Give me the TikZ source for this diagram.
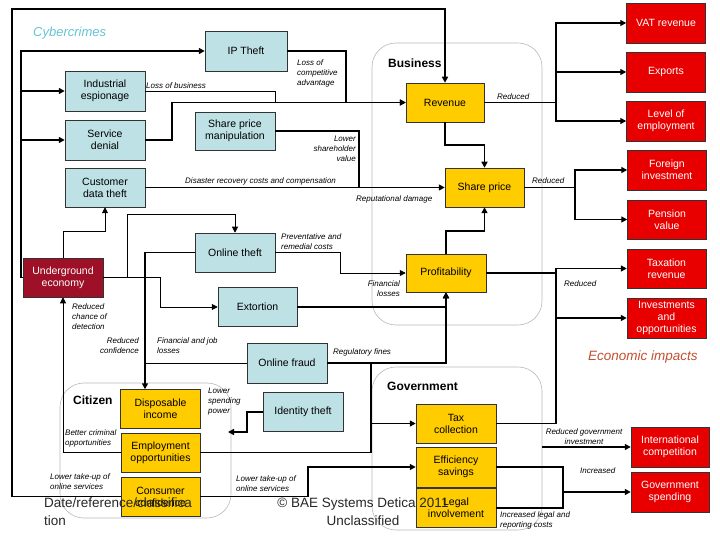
\documentclass[tikz,border=0pt]{standalone}
\usepackage{fontspec}
\setmainfont{Liberation Sans}
\usetikzlibrary{arrows.meta}
\definecolor{cybfill}{RGB}{190,225,229}
\definecolor{bizfill}{RGB}{255,204,0}
\definecolor{econfill}{RGB}{232,0,0}
\definecolor{ugefill}{RGB}{158,16,40}
\definecolor{cybtext}{RGB}{100,195,210}
\definecolor{econtext}{RGB}{192,80,48}
\definecolor{grpline}{RGB}{185,185,185}
\newcommand{\boxfont}{\fontsize{10.5}{12}\selectfont}
\newcommand{\linkfont}{\fontsize{8}{10}\selectfont\itshape}

\begin{document}
\begin{tikzpicture}[x=1pt,y=-1pt,
    every node/.style={font=\boxfont},
    box/.style={draw=black!80, line width=0.5pt, minimum width=80pt, minimum height=39pt, align=center, inner sep=1pt},
    cyber/.style={box, fill=cybfill},
    impact/.style={box, fill=bizfill},
    econ/.style={box, fill=econfill, text=white, minimum width=79pt},
    under/.style={box, fill=ugefill, text=white},
    group/.style={draw=grpline, line width=0.6pt, rounded corners=24pt, inner sep=0pt},
    grouplabel/.style={font=\fontsize{12}{14}\selectfont\bfseries, anchor=west, inner sep=0pt},
    lbl/.style={font=\linkfont, inner sep=0pt},
    footer/.style={font=\fontsize{13.5}{18}\selectfont, text=black!85, inner sep=0pt},
    link/.style={line width=1.8pt},
    midlink/.style={line width=1.3pt},
    thinlink/.style={line width=0.9pt},
    arrowed/.style={-{Triangle[length=6pt,width=6pt]}}]
  \useasboundingbox (0,0) rectangle (720,540);

  % groups
  \node[group, minimum width=170pt, minimum height=282pt] (busgrp) at (457,184) {};
  \node[group, minimum width=170pt, minimum height=163pt] (govgrp) at (457,448.5) {};
  \node[group, minimum width=171pt, minimum height=135pt] (citgrp) at (145.5,450.5) {};
  \node[grouplabel] (busname) at (388,63) {Business};
  \node[grouplabel] (govname) at (387,386) {Government};
  \node[grouplabel] (citname) at (73,400) {Citizen};
  \node[anchor=west, inner sep=0pt, text=cybtext, font=\fontsize{13}{15}\selectfont\itshape] (cybname) at (33,33) {Cybercrimes};
  \node[anchor=west, inner sep=0pt, text=econtext, font=\fontsize{13.5}{15}\selectfont\itshape] (econname) at (588,357) {Economic impacts};

  % cybercrimes
  \node[cyber, minimum width=82pt, minimum height=40pt] (ipt) at (246,51) {IP Theft};
  \node[cyber, minimum height=40pt] (ind) at (105,91) {Industrial\\espionage};
  \node[cyber, minimum height=40pt] (sde) at (105,140) {Service\\denial};
  \node[cyber] (cdt) at (105,187.5) {Customer\\data theft};
  \node[cyber, minimum height=38pt] (spm) at (235,131) {Share price\\manipulation};
  \node[cyber] (onth) at (235,252.5) {Online theft};
  \node[cyber, minimum width=79pt] (ext) at (257.5,307) {Extortion};
  \node[cyber, minimum height=40pt] (ofr) at (287,363) {Online fraud};
  \node[cyber] (idt) at (303,412) {Identity theft};
  \node[under] (uge) at (63,277.5) {Underground\\economy};

  % business, citizen, government
  \node[impact, minimum width=78pt] (rev) at (445,102.5) {Revenue};
  \node[impact, minimum width=79pt] (shp) at (484.5,187.5) {Share price};
  \node[impact, minimum height=38pt] (prof) at (446,273) {Profitability};
  \node[impact] (dinc) at (160.5,409) {Disposable\\income};
  \node[impact, minimum width=79pt] (emp) at (160.5,452.5) {Employment\\opportunities};
  \node[impact, minimum width=79pt] (ccf) at (160.5,496.5) {Consumer\\confidence};
  \node[impact] (tax) at (456,423.5) {Tax\\collection};
  \node[impact, minimum height=40pt] (eff) at (456,467) {Efficiency\\savings};
  \node[impact] (legal) at (456,508) {Legal\\involvement};

  % economic impacts
  \node[econ, minimum height=40pt] (vat) at (666,23) {VAT revenue};
  \node[econ, minimum height=40pt] (exp) at (666,72) {Exports};
  \node[econ, minimum height=40pt] (loe) at (666,121) {Level of\\employment};
  \node[econ, minimum height=40pt] (fin) at (667,170) {Foreign\\investment};
  \node[econ] (pen) at (667,219.5) {Pension\\value};
  \node[econ] (taxr) at (666.5,268.5) {Taxation\\revenue};
  \node[econ, minimum height=40pt] (inv) at (666.5,318) {Investments\\and\\opportunities};
  \node[econ, minimum width=78pt, minimum height=40pt] (intc) at (670,447) {International\\competition};
  \node[econ, minimum width=78pt, minimum height=40pt] (gsp) at (670,492) {Government\\spending};

  % junctions
  \coordinate (spine) at (21,277.5);
  \coordinate (jrev) at (275,102.5);
  \coordinate (jshp) at (359,187.5);
  \coordinate (bshp) at (575,187.5);
  \coordinate (brev) at (556,102.5);
  \coordinate (bprof) at (556,273);
  \coordinate (btax) at (556,268.5);
  \coordinate (jdinc) at (145,363);
  \coordinate (jfraud) at (371,363);
  \coordinate (jemp) at (371,452.5);
  \coordinate (jgov) at (563,492);
  \coordinate (spend) at (228,432);

  % connectors
  \draw[link, arrowed] (ccf.west) -| (12,9) -| (rev.north);
  \draw[link, arrowed] (uge.west) -- (spine) |- (ipt.west);
  \draw[link, arrowed] (spine |- ind.west) -- (ind.west);
  \draw[link, arrowed] (spine |- sde.west) -- (sde.west);
  \draw[link, arrowed] (ipt.east) -- ++(59,0) |- (rev.west);
  \draw[thinlink] (ind.east) -| (jrev);
  \draw[link, arrowed] (sde.east) -- ++(27,0) |- (rev.west);
  \draw[link] (spm.east) -| (jshp);
  \draw[link, arrowed] (cdt.east) -- (shp.west);
  \draw[link, arrowed] (rev.south) -- ++(0,23) -| (shp.north);
  \draw[link, arrowed] (prof.north) -- ++(0,-23) -| (shp.south);
  \draw[link] (shp.east) -- (bshp);
  \draw[midlink, arrowed] (bshp) |- (fin.west);
  \draw[midlink, arrowed] (bshp) |- (pen.west);
  \draw[link] (rev.east) -- (brev);
  \draw[midlink, arrowed] (brev) |- (vat.west);
  \draw[midlink, arrowed] (brev |- exp.west) -- (exp.west);
  \draw[midlink, arrowed] (brev) |- (loe.west);
  \draw[thinlink, arrowed] (uge.north) -- ++(0,-26) -| (cdt.south);
  \draw[thinlink, arrowed] (uge.east) -| (127,214) -| (onth.north);
  \draw[thinlink, arrowed] (uge.east) -| (160,307) -- (ext.west);
  \draw[link, arrowed] (onth.west) -| ([xshift=-15.5pt]dinc.north);
  \draw[thinlink] (ofr.west) -- (jdinc);
  \draw[link, arrowed] (ext.east) -| (prof.south);
  \draw[link, arrowed] (ofr.east) -| (prof.south);
  \draw[thinlink, arrowed] (onth.east) -| (340,273) -- (prof.west);
  \draw[link] (prof.east) -- (bprof);
  \draw[link, arrowed] (tax.east) -| (btax) -- (taxr.west);
  \draw[midlink, arrowed] (btax |- inv.west) -- (inv.west);
  \draw[link] (jfraud) -- (jemp);
  \draw[thinlink] (emp.east) -- (jemp);
  \draw[link, arrowed] (jfraud |- tax.west) -- (tax.west);
  \draw[thinlink, arrowed] (emp.west) -| (uge.south);
  \draw[link, arrowed] (idt.west) -- ++(-16,0) |- (spend);
  \draw[midlink, arrowed] (ccf.east) -| (308,467) -- (eff.west);
  \draw[link] (eff.east) -| (jgov) |- (legal.east);
  \draw[link, arrowed] (jgov) -- (gsp.west);
  \draw[midlink, arrowed] (govgrp.east |- intc.west) -- (intc.west);

  % connector labels
  \node[lbl, anchor=west] (lob) at (146,86) {Loss of business};
  \node[lbl, anchor=west, align=left] (lca) at (297,73) {Loss of\\competitive\\advantage};
  \node[lbl, anchor=east, align=right] (lsv) at (356,149) {Lower\\shareholder\\value};
  \node[lbl, anchor=west] (drc) at (185,181) {Disaster recovery costs and compensation};
  \node[lbl, anchor=west] (rpd) at (356,199) {Reputational damage};
  \node[lbl, anchor=west] (redrev) at (497,97) {Reduced};
  \node[lbl, anchor=west] (redshp) at (532,181) {Reduced};
  \node[lbl, anchor=west, align=left] (prc) at (281,242) {Preventative and\\remedial costs};
  \node[lbl, anchor=east, align=right] (fls) at (400,289) {Financial\\losses};
  \node[lbl, anchor=west] (redprof) at (564,284) {Reduced};
  \node[lbl, anchor=west, align=left] (rcd) at (72,317) {Reduced\\chance of\\detection};
  \node[lbl, anchor=east, align=right] (rcf) at (139,346) {Reduced\\confidence};
  \node[lbl, anchor=west, align=left] (fjl) at (157,346) {Financial and job\\losses};
  \node[lbl, anchor=west] (rgf) at (333,352) {Regulatory fines};
  \node[lbl, anchor=west, align=left] (lsp) at (208,402) {Lower\\spending\\power};
  \node[lbl, anchor=west, align=left] (bco) at (65,438) {Better criminal\\opportunities};
  \node[lbl, anchor=west, align=left] (ltuleft) at (50,482) {Lower take-up of\\online services};
  \node[lbl, anchor=west, align=left] (lturight) at (236,484) {Lower take-up of\\online services};
  \node[lbl, align=center] (rgi) at (584,437) {Reduced government\\investment};
  \node[lbl, anchor=west] (incr) at (580,471) {Increased};
  \node[lbl, anchor=west, align=left] (ilr) at (500,520) {Increased legal and\\reporting costs};

  % footer
  \node[footer, anchor=west, align=left] (fdate) at (44,512) {Date/reference/classifica\\tion};
  \node[footer, align=center] (fcopy) at (363,512) {© BAE Systems Detica 2011\\Unclassified};
\end{tikzpicture}
\end{document}
